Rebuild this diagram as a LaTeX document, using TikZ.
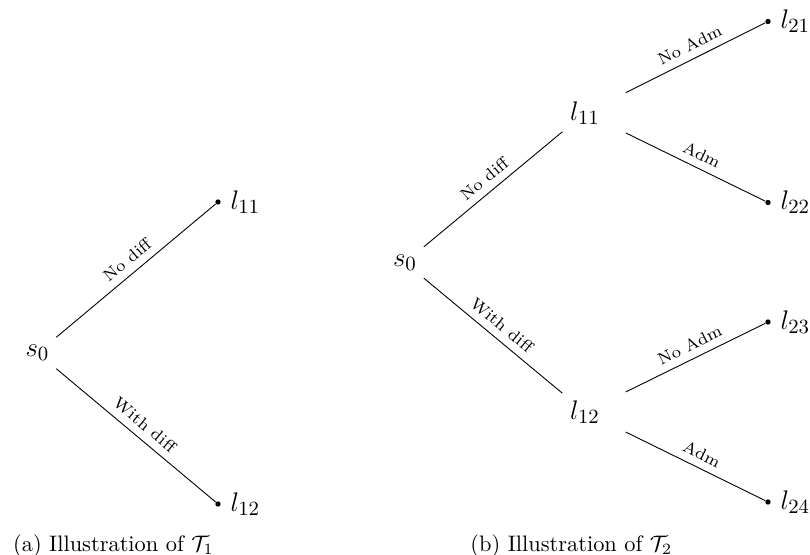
\documentclass[tikz,border=0pt]{standalone}
\begin{document}
\begin{tikzpicture}[x=0.4464pt,y=-0.4464pt,
  state/.style={font=\fontsize{13}{15}\selectfont, inner sep=3.3pt},
  leaf/.style={circle, fill, inner sep=0pt, minimum size=2.4pt},
  leaflabel/.style={font=\fontsize{13}{15}\selectfont, inner sep=4pt},
  elabel/.style={font=\fontsize{7.4}{9}\selectfont, sloped, above},
  capt/.style={anchor=base west, inner sep=0pt, font=\fontsize{10}{12}\selectfont}]
\useasboundingbox (0,0) rectangle (810,555);
% (a)
\node[state] (s0L) at (37.5,353) {$s_0$};
\node[leaf, label={[leaflabel]right:$l_{11}$}] (l11L) at (218,202) {};
\node[leaf, label={[leaflabel]right:$l_{12}$}] (l12L) at (218,504) {};
\draw (s0L) -- node[elabel] {No diff} (l11L);
\draw (s0L) -- node[elabel] {With diff} (l12L);
\node[capt] (capa) at (12.7,551.5) {(a) Illustration of $\mathcal{T}_1$};
% (b)
\node[state] (s0R) at (405,262.5) {$s_0$};
\node[state] (l11R) at (585,113) {$l_{11}$};
\node[state] (l12R) at (585,412) {$l_{12}$};
\node[leaf, label={[leaflabel]right:$l_{21}$}] (l21) at (768,21.5) {};
\node[leaf, label={[leaflabel]right:$l_{22}$}] (l22) at (768,202.5) {};
\node[leaf, label={[leaflabel]right:$l_{23}$}] (l23) at (768,322) {};
\node[leaf, label={[leaflabel]right:$l_{24}$}] (l24) at (768,502) {};
\draw (s0R) -- node[elabel] {No diff} (l11R);
\draw (s0R) -- node[elabel] {With diff} (l12R);
\draw[shorten <=9pt] (l11R) -- node[elabel, pos=0.56] {No Adm} (l21);
\draw[shorten <=9pt] (l11R) -- node[elabel, pos=0.56] {Adm} (l22);
\draw[shorten <=9pt] (l12R) -- node[elabel, pos=0.56] {No Adm} (l23);
\draw[shorten <=9pt] (l12R) -- node[elabel, pos=0.56] {Adm} (l24);
\node[capt] (capb) at (470,551.5) {(b) Illustration of $\mathcal{T}_2$};
\end{tikzpicture}
\end{document}
